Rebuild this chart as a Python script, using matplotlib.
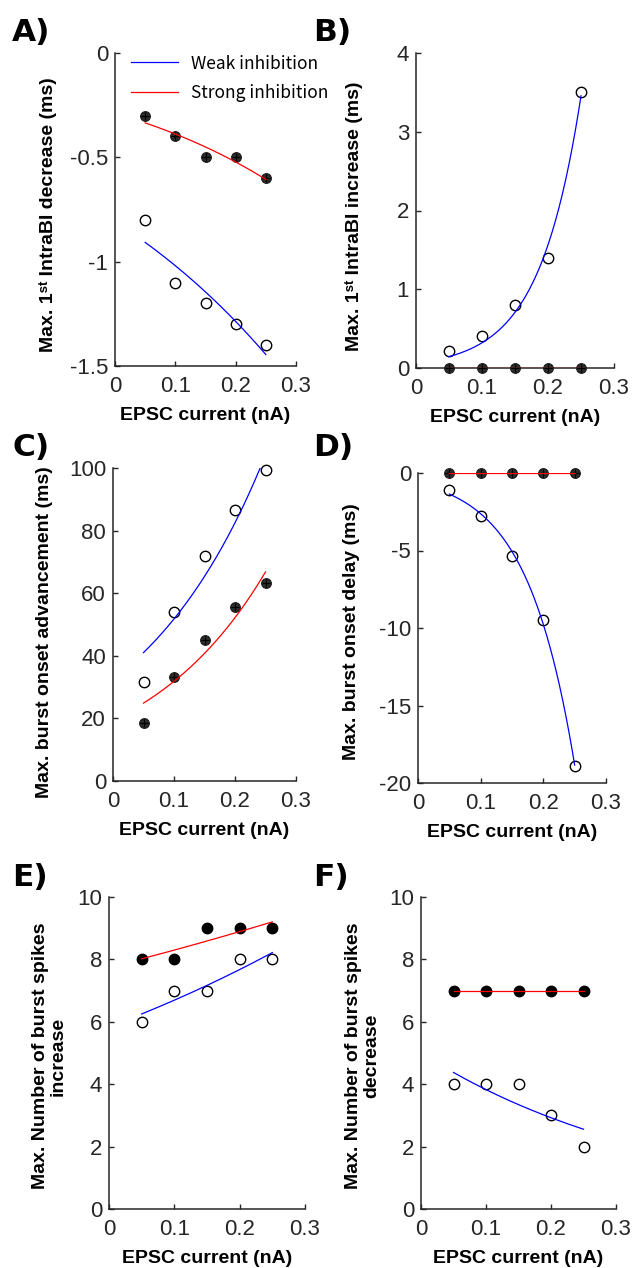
import numpy as np
import matplotlib
matplotlib.use("Agg")
import matplotlib.pyplot as plt
from matplotlib.ticker import FormatStrFormatter

plt.rcParams['font.family'] = ['Liberation Sans', 'DejaVu Sans']
plt.rcParams['axes.unicode_minus'] = False

# EPSC current steps (nA)
epsc = np.array([0.05, 0.10, 0.15, 0.20, 0.25])

# A) max. 1st IntraBI decrease (ms)
intra_dec_weak = np.array([-0.8, -1.1, -1.2, -1.3, -1.4])
intra_dec_strong = np.array([-0.3, -0.4, -0.5, -0.5, -0.6])
# B) max. 1st IntraBI increase (ms)
intra_inc_weak = np.array([0.21, 0.41, 0.80, 1.40, 3.50])
intra_inc_strong = np.array([0.0, 0.0, 0.0, 0.0, 0.0])
# C) max. burst onset advancement (ms)
onset_adv_weak = np.array([31.5, 54.0, 72.0, 86.7, 99.3])
onset_adv_strong = np.array([18.5, 33.1, 44.9, 55.6, 63.4])
# D) max. burst onset delay (ms)
onset_delay_weak = np.array([-1.08, -2.75, -5.38, -9.5, -18.9])
onset_delay_strong = np.array([0.0, 0.0, 0.0, 0.0, 0.0])
# E) max. number of burst spikes increase
spikes_inc_weak = np.array([6, 7, 7, 8, 8])
spikes_inc_strong = np.array([8, 8, 9, 9, 9])
# F) max. number of burst spikes decrease
spikes_dec_weak = np.array([4, 4, 4, 3, 2])
spikes_dec_strong = np.array([7, 7, 7, 7, 7])


def exp_fit(x, y, n_iter=200):
    """least squares fit of y = a*exp(b*x)"""
    y = np.asarray(y, dtype=float)
    if np.ptp(y) == 0:
        return y[0], 0.0
    sgn = np.sign(y.mean())
    b, ln_a = np.polyfit(x, np.log(np.abs(y)), 1)
    a = sgn * np.exp(ln_a)
    for _ in range(n_iter):
        e = np.exp(b * x)
        r = y - a * e
        J = np.column_stack([e, a * x * e])
        step = np.linalg.lstsq(J, r, rcond=None)[0]
        a += step[0]
        b += step[1]
        if np.all(np.abs(step) < 1e-12):
            break
    return a, b


W, H = 635, 1268
fig = plt.figure(figsize=(W / 100, H / 100), dpi=100)

# (left, top, right, bottom) in pixels
boxes = {
    'A': (115, 53, 296, 366),
    'B': (416, 53, 614, 368),
    'C': (113, 468, 296, 781),
    'D': (418, 473, 606, 783),
    'E': (109, 897, 305, 1209),
    'F': (421, 897, 616, 1209),
}

panels = [
    ('A', intra_dec_weak, intra_dec_strong, (-1.5, 0), [-1.5, -1, -0.5, 0],
     'Max. 1ˢᵗ IntraBI decrease (ms)', True),
    ('B', intra_inc_weak, intra_inc_strong, (0, 4), [0, 1, 2, 3, 4],
     'Max. 1ˢᵗ IntraBI increase (ms)', True),
    ('C', onset_adv_weak, onset_adv_strong, (0, 100), [0, 20, 40, 60, 80, 100],
     'Max. burst onset advancement (ms)', True),
    ('D', onset_delay_weak, onset_delay_strong, (-20, 0), [-20, -15, -10, -5, 0],
     'Max. burst onset delay (ms)', True),
    ('E', spikes_inc_weak, spikes_inc_strong, (0, 10), [0, 2, 4, 6, 8, 10],
     'Max. Number of burst spikes\nincrease', False),
    ('F', spikes_dec_weak, spikes_dec_strong, (0, 10), [0, 2, 4, 6, 8, 10],
     'Max. Number of burst spikes\ndecrease', False),
]

# y label placement: (px from y axis to label's right edge, px below axes centre)
ylabel_place = {'A': (58, 5), 'B': (53, 6), 'C': (60, 8), 'D': (58, 4),
                'E': (42, 3), 'F': (41, 3)}
letter_pos = {'A': (12, 18), 'B': (313, 18), 'C': (12, 433), 'D': (313, 433),
              'E': (12, 863), 'F': (313, 863)}

xfit = np.linspace(0.05, 0.25, 200)
tick_color = '#262626'

for key, weak, strong, ylim, yticks, ylab, textured in panels:
    l, t, r, b = boxes[key]
    ax = fig.add_axes([l / W, 1 - b / H, (r - l) / W, (b - t) / H])

    # weak inhibition: open circles
    ax.plot(epsc, weak, 'o', ms=7.5, mfc='white', mec='black', mew=1.0,
            clip_on=False, zorder=3)
    # strong inhibition: filled circles
    if textured:
        ax.plot(epsc, strong, 'o', ms=7.0, mfc='#2b2b2b', mec='#1a1a1a', mew=0.8,
                clip_on=False, zorder=3)
        ax.plot(epsc, strong, '+', ms=6.0, mec='black', mew=0.8,
                clip_on=False, zorder=3)
    else:
        ax.plot(epsc, strong, 'o', ms=7.5, mfc='black', mec='black',
                clip_on=False, zorder=3)

    aw, bw = exp_fit(epsc, weak)
    as_, bs = exp_fit(epsc, strong)
    ax.plot(xfit, aw * np.exp(bw * xfit), color='#0000ff', lw=0.9,
            zorder=4, label='Weak inhibition')
    ax.plot(xfit, as_ * np.exp(bs * xfit), color='#ff0000', lw=0.9,
            zorder=4, label='Strong inhibition')

    ax.set_xlim(0, 0.3)
    ax.set_ylim(*ylim)
    ax.set_xticks([0, 0.1, 0.2, 0.3])
    ax.set_yticks(yticks)
    ax.xaxis.set_major_formatter(FormatStrFormatter('%g'))
    ax.yaxis.set_major_formatter(FormatStrFormatter('%g'))

    for side in ('top', 'right'):
        ax.spines[side].set_visible(False)
    for side in ('left', 'bottom'):
        ax.spines[side].set_linewidth(1.1)
        ax.spines[side].set_color(tick_color)
    ax.tick_params(direction='in', length=3.5, width=1.0, color=tick_color,
                   labelsize=16, labelcolor=tick_color)
    ax.tick_params(axis='x', pad=7)
    ax.tick_params(axis='y', pad=5)

    ax.set_xlabel('EPSC current (nA)', fontsize=14, fontweight='bold')
    ax.xaxis.set_label_coords(0.5, -41 / (b - t))
    ax.set_ylabel(ylab, fontsize=14, fontweight='bold', linespacing=1.1)
    off_x, off_y = ylabel_place[key]
    ax.yaxis.set_label_coords(-off_x / (r - l), 0.5 - off_y / (b - t))

    lx, ly = letter_pos[key]
    fig.text(lx / W, 1 - ly / H, key + ')', fontsize=22.5, fontweight='bold',
             va='top', ha='left', family=['DejaVu Sans'])

    if key == 'A':
        ax.legend(loc='upper left', bbox_to_anchor=(0.088, 0.995), frameon=False,
                  prop={'family': 'Noto Sans CJK KR', 'size': 12.5},
                  handlelength=2.7, handletextpad=0.75, labelspacing=0.65,
                  borderpad=0, borderaxespad=0)

fig.savefig('out.png', dpi=100)
